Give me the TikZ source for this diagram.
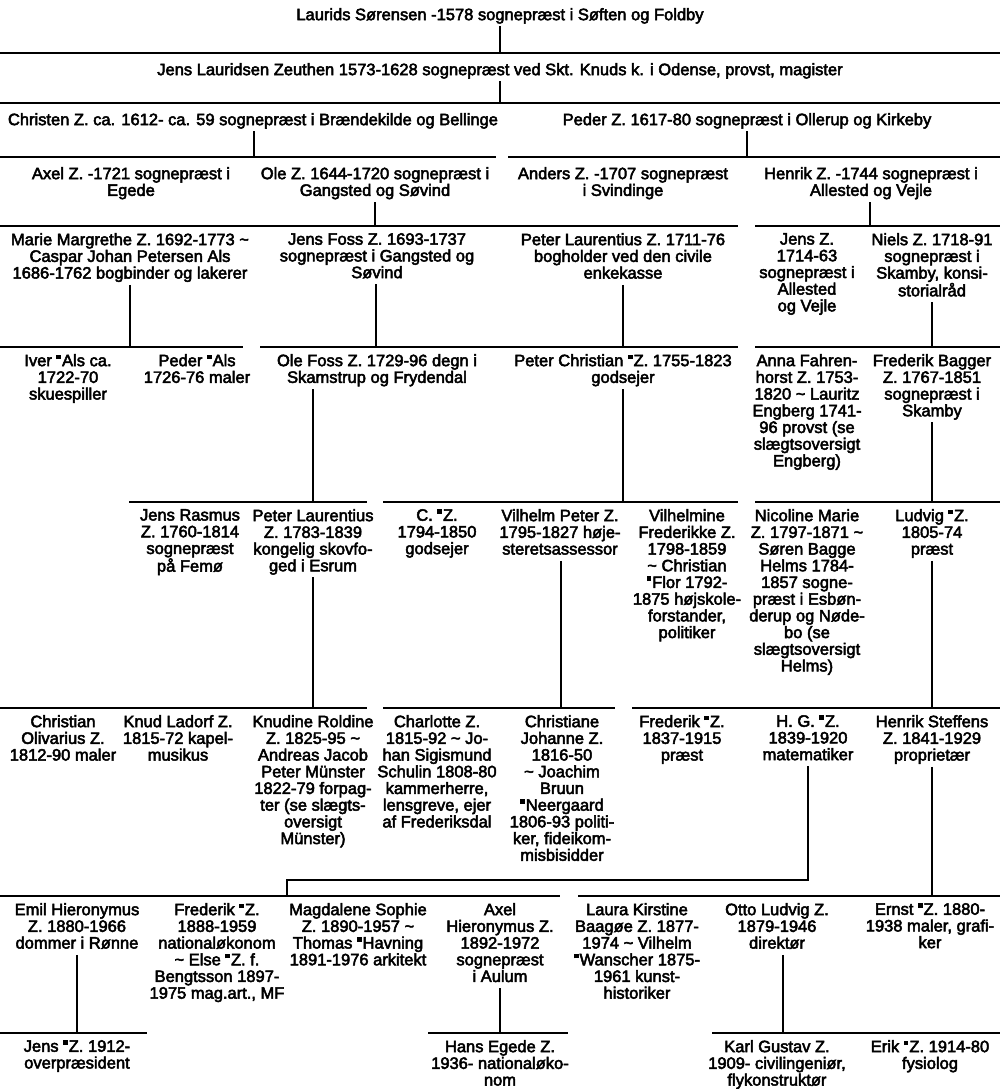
\documentclass[tikz,border=0pt]{standalone}
\usepackage{fontspec}
\newfontfamily\chartfont{Liberation Sans}[FakeBold=3]
\newcommand{\xr}{\rule[0.42em]{0.28em}{0.28em}\kern0.06em}
\begin{document}
\begin{tikzpicture}[x=1pt,y=-1pt,
  p/.style={anchor=north, align=center, inner sep=0pt, text depth=4pt,
    font=\chartfont\fontsize{16.5}{16.7}\selectfont},
  gline/.style={line width=1.7pt},
  vline/.style={line width=1.2pt, shorten <=2pt}]
\useasboundingbox (0,0) rectangle (1000,1089);
% ---------------- generation lines
\draw[gline] (0,53) -- (1000,53);
\draw[gline] (0,103) -- (1000,103);
\draw[gline] (0,157) -- (496,157);
\draw[gline] (508,157) -- (1000,157);
\draw[gline] (0,226) -- (738,226);
\draw[gline] (755,226) -- (1000,226);
\draw[gline] (0,347) -- (243,347);
\draw[gline] (260,347) -- (738,347);
\draw[gline] (755,347) -- (1000,347);
\draw[gline] (129,502) -- (367,502);
\draw[gline] (383,502) -- (738,502);
\draw[gline] (755,502) -- (1000,502);
\draw[gline] (0,708) -- (367,708);
\draw[gline] (383,708) -- (615,708);
\draw[gline] (632,708) -- (1000,708);
\draw[gline] (0,896) -- (560,896);
\draw[gline] (578,896) -- (1000,896);
\draw[gline] (0,1033) -- (147,1033);
\draw[gline] (428,1033) -- (568,1033);
\draw[gline] (712,1033) -- (1000,1033);
% ---------------- nodes
\node[p] (laurids) at (500,8) {Laurids Sørensen -1578 sognepræst i Søften og Foldby};
\node[p] (jensl) at (500,63) {Jens Lauridsen Zeuthen 1573-1628 sognepræst ved Skt. Knuds k. i Odense, provst, magister};
\node[p] (christen) at (253,113) {Christen Z. ca. 1612- ca. 59 sognepræst i Brændekilde og Bellinge};
\node[p] (peder) at (747,113) {Peder Z. 1617-80 sognepræst i Ollerup og Kirkeby};
\node[p] (axel1) at (131,167) {Axel Z. -1721 sognepræst i\\Egede};
\node[p] (ole) at (375,167) {Ole Z. 1644-1720 sognepræst i\\Gangsted og Søvind};
\node[p] (anders) at (623,167) {Anders Z. -1707 sognepræst\\i Svindinge};
\node[p] (henrik1) at (871,167) {Henrik Z. -1744 sognepræst i\\Allested og Vejle};
\node[p] (marie) at (130,233) {Marie Margrethe Z. 1692-1773 \char`\~\\Caspar Johan Petersen Als\\1686-1762 bogbinder og lakerer};
\node[p] (jensfoss) at (377,233) {Jens Foss Z. 1693-1737\\sognepræst i Gangsted og\\Søvind};
\node[p] (peterl1) at (623,233) {Peter Laurentius Z. 1711-76\\bogholder ved den civile\\enkekasse};
\node[p] (jensz) at (807,233) {Jens Z.\\1714-63\\sognepræst i\\Allested\\og Vejle};
\node[p] (niels) at (932,233) {Niels Z. 1718-91\\sognepræst i\\Skamby, konsi-\\storialråd};
\node[p] (iver) at (68,354) {Iver \xr Als ca.\\1722-70\\skuespiller};
\node[p] (pederals) at (197,354) {Peder \xr Als\\1726-76 maler};
\node[p] (olefoss) at (377,354) {Ole Foss Z. 1729-96 degn i\\Skamstrup og Frydendal};
\node[p] (peterchr) at (623,354) {Peter Christian \xr Z. 1755-1823\\godsejer};
\node[p] (anna) at (807,354) {Anna Fahren-\\horst Z. 1753-\\1820 \char`\~\ Lauritz\\Engberg 1741-\\96 provst (se\\slægtsoversigt\\Engberg)};
\node[p] (fbagger) at (932,354) {Frederik Bagger\\Z. 1767-1851\\sognepræst i\\Skamby};
\node[p] (jensras) at (190,509) {Jens Rasmus\\Z. 1760-1814\\sognepræst\\på Femø};
\node[p] (peterl2) at (313,509) {Peter Laurentius\\Z. 1783-1839\\kongelig skovfo-\\ged i Esrum};
\node[p] (cz) at (437,509) {C. \xr Z.\\1794-1850\\godsejer};
\node[p] (vilhelm) at (560,509) {Vilhelm Peter Z.\\1795-1827 høje-\\steretsassessor};
\node[p] (vilhelmine) at (687,509) {Vilhelmine\\Frederikke Z.\\1798-1859\\\char`\~\ Christian\\\xr Flor 1792-\\1875 højskole-\\forstander,\\politiker};
\node[p] (nicoline) at (807,509) {Nicoline Marie\\Z. 1797-1871 \char`\~\\Søren Bagge\\Helms 1784-\\1857 sogne-\\præst i Esbøn-\\derup og Nøde-\\bo (se\\slægtsoversigt\\Helms)};
\node[p] (ludvig) at (932,509) {Ludvig \xr Z.\\1805-74\\præst};
\node[p] (chrol) at (63,715) {Christian\\Olivarius Z.\\1812-90 maler};
\node[p] (knud) at (178,715) {Knud Ladorf Z.\\1815-72 kapel-\\musikus};
\node[p] (knudine) at (313,715) {Knudine Roldine\\Z. 1825-95 \char`\~\\Andreas Jacob\\Peter Münster\\1822-79 forpag-\\ter (se slægts-\\oversigt\\Münster)};
\node[p] (charlotte) at (437,715) {Charlotte Z.\\1815-92 \char`\~\ Jo-\\han Sigismund\\Schulin 1808-80\\kammerherre,\\lensgreve, ejer\\af Frederiksdal};
\node[p] (christiane) at (562,715) {Christiane\\Johanne Z.\\1816-50\\\char`\~\ Joachim\\Bruun\\\xr Neergaard\\1806-93 politi-\\ker, fideikom-\\misbisidder};
\node[p] (frederik1) at (682,715) {Frederik \xr Z.\\1837-1915\\præst};
\node[p] (hg) at (808,715) {H. G. \xr Z.\\1839-1920\\matematiker};
\node[p] (hsteffens) at (932,715) {Henrik Steffens\\Z. 1841-1929\\proprietær};
\node[p] (emil) at (77,903) {Emil Hieronymus\\Z. 1880-1966\\dommer i Rønne};
\node[p] (frederik2) at (217,903) {Frederik \xr Z.\\1888-1959\\nationaløkonom\\\char`\~\ Else \xr Z. f.\\Bengtsson 1897-\\1975 mag.art., MF};
\node[p] (magdalene) at (358,903) {Magdalene Sophie\\Z. 1890-1957 \char`\~\\Thomas \xr Havning\\1891-1976 arkitekt};
\node[p] (axel2) at (500,903) {Axel\\Hieronymus Z.\\1892-1972\\sognepræst\\i Aulum};
\node[p] (laura) at (637,903) {Laura Kirstine\\Baagøe Z. 1877-\\1974 \char`\~\ Vilhelm\\\xr Wanscher 1875-\\1961 kunst-\\historiker};
\node[p] (otto) at (777,903) {Otto Ludvig Z.\\1879-1946\\direktør};
\node[p] (ernst) at (930,903) {Ernst \xr Z. 1880-\\1938 maler, grafi-\\ker};
\node[p] (jens3) at (77,1040) {Jens \xr Z. 1912-\\overpræsident};
\node[p] (hans) at (500,1040) {Hans Egede Z.\\1936- nationaløko-\\nom};
\node[p] (karl) at (777,1040) {Karl Gustav Z.\\1909- civilingeniør,\\flykonstruktør};
\node[p] (erik) at (930,1040) {Erik \xr Z. 1914-80\\fysiolog};
% ---------------- connector end points on the generation lines
\coordinate (e-laurids) at (500,53);
\coordinate (e-jensl) at (500,103);
\coordinate (e-christen) at (254,157);
\coordinate (e-peder) at (747,157);
\coordinate (e-ole) at (375,226);
\coordinate (e-henrik1) at (870,226);
\coordinate (e-marie) at (130,347);
\coordinate (e-jensfoss) at (376,347);
\coordinate (e-peterl1) at (623,347);
\coordinate (e-niels) at (932,347);
\coordinate (e-olefoss) at (313,502);
\coordinate (e-peterchr) at (623,502);
\coordinate (e-fbagger) at (932,502);
\coordinate (e-peterl2) at (313,708);
\coordinate (e-vilhelm) at (561,708);
\coordinate (e-ludvig) at (932,708);
\coordinate (k-hg1) at (808,880);
\coordinate (k-hg2) at (287,880);
\coordinate (e-hg) at (287,896);
\coordinate (e-hsteffens) at (932,896);
\coordinate (e-emil) at (77,1033);
\coordinate (e-axel2) at (500,1033);
\coordinate (e-otto) at (783,1033);
% ---------------- connectors
\foreach \n in {laurids,jensl,christen,peder,ole,henrik1,marie,jensfoss,peterl1,niels,olefoss,peterchr,fbagger,peterl2,vilhelm,ludvig,hsteffens,emil,axel2,otto}
  \draw[vline] (\n.south -| e-\n) -- (e-\n);
\draw[vline, line join=miter] (hg.south -| k-hg1) -- (k-hg1) -- (k-hg2) -- (e-hg);
\end{tikzpicture}
\end{document}
